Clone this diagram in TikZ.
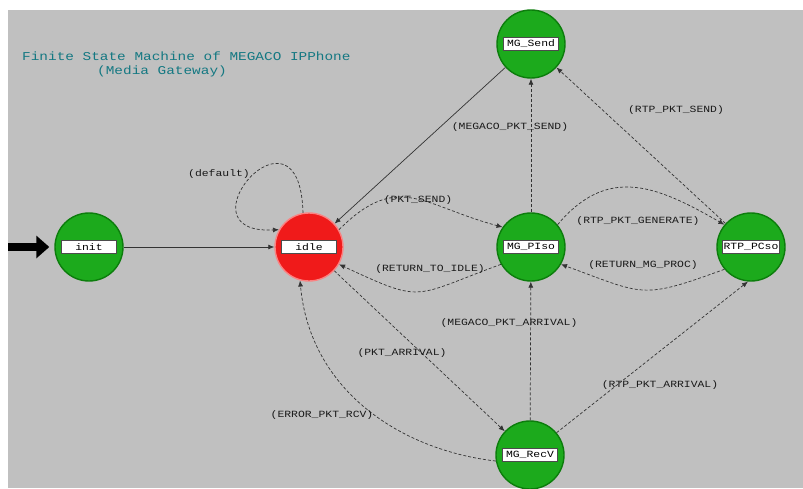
\documentclass[tikz,border=0pt]{standalone}
\usepackage{fontspec}
\newfontfamily\monof[FakeStretch=1.2]{Liberation Mono}
\usetikzlibrary{arrows.meta}
\definecolor{bg}{RGB}{192,192,192}
\definecolor{stgreen}{RGB}{28,170,28}
\definecolor{stgreenrim}{RGB}{12,125,12}
\definecolor{stred}{RGB}{240,26,26}
\definecolor{stredrim}{RGB}{250,130,130}
\definecolor{titlecol}{RGB}{20,120,130}
\begin{document}
\begin{tikzpicture}[x=1pt,y=1pt,
  state/.style={circle, minimum size=68pt, inner sep=0pt, fill=stgreen, draw=stgreenrim, line width=1.4pt},
  redstate/.style={state, fill=stred, draw=stredrim},
  namebox/.style={draw=black!70, fill=white, line width=0.8pt, inner sep=1.5pt, minimum width=55pt, minimum height=13pt, font=\monof\fontsize{9.5}{10}\selectfont},
  trans/.style={draw=black!80, line width=0.7pt, dash pattern=on 3pt off 2pt, -{Latex[length=6pt,width=5pt]}},
  plain/.style={draw=black!80, line width=0.7pt, -{Latex[length=6pt,width=5pt]}},
  lab/.style={font=\monof\fontsize{9.5}{10}\selectfont, text=black!90, inner sep=1pt},
  ttl/.style={font=\monof\fontsize{12}{13}\selectfont, text=titlecol, inner sep=0pt, anchor=west},
]
\useasboundingbox (0,0) rectangle (803,-488);
\fill[bg] (8,-10) rectangle (803,-488);

% title
\node[ttl] (title1) at (22,-56) {Finite State Machine of MEGACO IPPhone};
\node[ttl] (title2) at (97,-71) {(Media Gateway)};

% states
\node[state] (init) at (89,-247) {};
\node[redstate] (idle) at (309,-247) {};
\node[state] (mgsend) at (531,-44) {};
\node[state] (mgpiso) at (531,-247) {};
\node[state] (rtp) at (751,-247) {};
\node[state] (mgrecv) at (530,-455) {};

% entry arrow
\coordinate (entry) at (8,-247);
\draw[line width=8pt, -{Triangle[length=13pt,width=22pt]}, shorten >=5pt] (entry) -- (init);

% transitions
\draw[plain] (init) -- (idle);
\draw[plain] (mgsend) -- (idle);
\draw[trans] (idle.100) .. controls (300,-90) and (175,-235) .. (idle.150);
\draw[trans] (mgpiso) -- (mgsend);
\draw[trans] (rtp) -- (mgsend);
\draw[trans] (idle.30) to[out=45,in=165,looseness=1.3] (mgpiso.145);
\draw[trans] (mgpiso.-150) to[out=-160,in=-25,looseness=1.5] (idle.-30);
\draw[trans] (mgpiso.40) to[out=50,in=150,looseness=1.2] (rtp.140);
\draw[trans] (rtp.-140) to[out=-160,in=-20,looseness=1.4] (mgpiso.-30);
\draw[trans] (mgrecv) -- (mgpiso);
\draw[trans] (idle) -- (mgrecv);
\draw[trans] (mgrecv.190) .. controls (400,-450) and (310,-390) .. (idle.-105);
\draw[trans] (mgrecv.40) -- (rtp.-95);

% state names
\node[namebox] (init-t) at (init) {init};
\node[namebox] (idle-t) at (idle) {idle};
\node[namebox] (mgsend-t) at (mgsend) {MG\_Send};
\node[namebox] (mgpiso-t) at (mgpiso) {MG\_PIso};
\node[namebox] (rtp-t) at (rtp) {RTP\_PCso};
\node[namebox] (mgrecv-t) at (mgrecv) {MG\_RecV};

% transition labels
\node[lab] (l-default) at (219,-174) {(default)};
\node[lab] (l-mgsend) at (510,-127) {(MEGACO\_PKT\_SEND)};
\node[lab] (l-rtpsend) at (676,-110) {(RTP\_PKT\_SEND)};
\node[lab] (l-pktsend) at (418,-200) {(PKT\_SEND)};
\node[lab] (l-retidle) at (430,-269) {(RETURN\_TO\_IDLE)};
\node[lab] (l-rtpgen) at (638,-221) {(RTP\_PKT\_GENERATE)};
\node[lab] (l-retmg) at (643,-265) {(RETURN\_MG\_PROC)};
\node[lab] (l-mgarr) at (509,-323) {(MEGACO\_PKT\_ARRIVAL)};
\node[lab] (l-pktarr) at (402,-353) {(PKT\_ARRIVAL)};
\node[lab] (l-err) at (322,-415) {(ERROR\_PKT\_RCV)};
\node[lab] (l-rtparr) at (660,-385) {(RTP\_PKT\_ARRIVAL)};
\end{tikzpicture}
\end{document}
